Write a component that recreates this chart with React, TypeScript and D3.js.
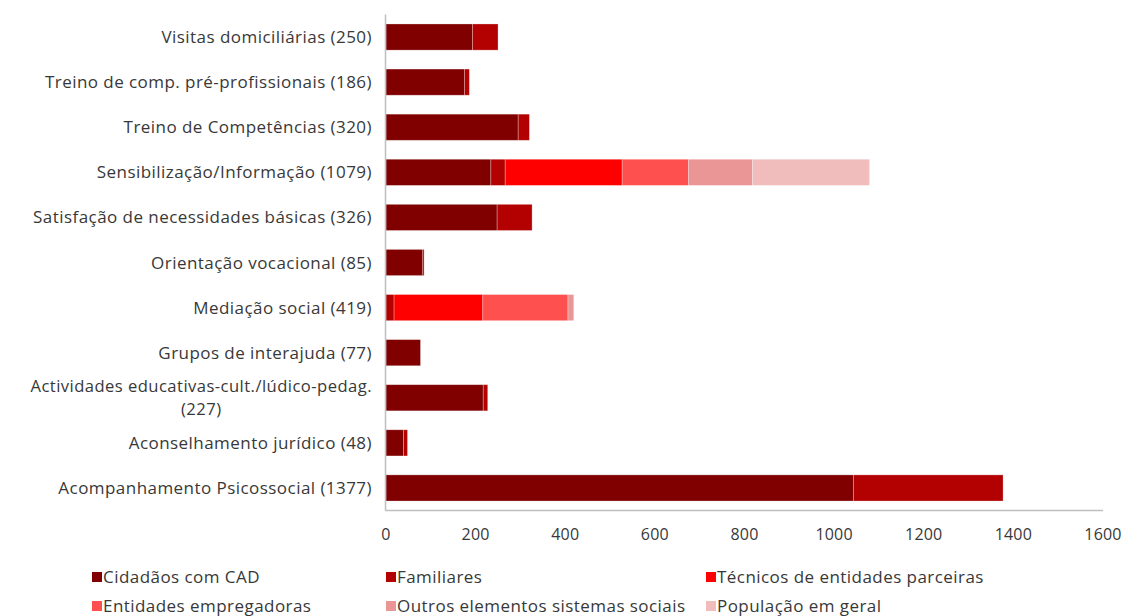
import React, { useEffect, useRef } from "react";
import * as d3 from "d3";

const categories = [
  "Visitas domiciliárias (250)",
  "Treino de comp. pré-profissionais (186)",
  "Treino de Competências (320)",
  "Sensibilização/Informação (1079)",
  "Satisfação de necessidades básicas (326)",
  "Orientação vocacional (85)",
  "Mediação social (419)",
  "Grupos de interajuda (77)",
  "Actividades educativas-cult./lúdico-pedag. (227)",
  "Aconselhamento jurídico (48)",
  "Acompanhamento Psicossocial (1377)",
];

const seriesNames = [
  "Cidadãos com CAD",
  "Familiares",
  "Técnicos de entidades parceiras",
  "Entidades empregadoras",
  "Outros elementos sistemas sociais",
  "População em geral",
];

const cidadaos = [193, 175, 295, 234, 248, 82, 0, 77, 217, 39, 1043];
const familiares = [57, 11, 25, 32, 78, 3, 18, 0, 10, 9, 334];
const tecnicos = [0, 0, 0, 261, 0, 0, 198, 0, 0, 0, 0];
const entidades = [0, 0, 0, 148, 0, 0, 190, 0, 0, 0, 0];
const outros = [0, 0, 0, 143, 0, 0, 13, 0, 0, 0, 0];
const populacao = [0, 0, 0, 261, 0, 0, 0, 0, 0, 0, 0];

const xTicks = [0, 200, 400, 600, 800, 1000, 1200, 1400, 1600];
const colors = ["#800000", "#b30000", "#ff0000", "#ff5050", "#eb9696", "#f1bcbc"];

export default function App() {
  const ref = useRef<SVGSVGElement>(null);
  useEffect(() => {
    const svg = d3.select(ref.current);
    svg.selectAll("*").remove();
    const font = "'Open Sans', sans-serif";
    const textColor = "#383838";
    const fs = 17;
    const ls = 0.45;
    const left = 386, right = 1103, top = 14.5, bottom = 510.5;
    const x = d3.scaleLinear().domain([0, 1600]).range([left, right]);
    const y = d3.scaleBand().domain(categories).range([top, bottom]).paddingInner(0.42).paddingOuter(0.21);

    const rows = categories.map((c, i) => ({
      cat: c,
      s0: cidadaos[i], s1: familiares[i], s2: tecnicos[i], s3: entidades[i], s4: outros[i], s5: populacao[i],
    }));
    const stack = d3.stack<any>().keys(["s0", "s1", "s2", "s3", "s4", "s5"]);
    const stacked = stack(rows);

    stacked.forEach((layer, li) => {
      svg.append("g").selectAll("rect").data(layer).join("rect")
        .filter((d: any) => d[1] - d[0] > 0)
        .attr("x", (d: any) => x(d[0]))
        .attr("y", (d: any) => y(d.data.cat)!)
        .attr("width", (d: any) => x(d[1]) - x(d[0]))
        .attr("height", y.bandwidth())
        .attr("fill", colors[li])
        .attr("stroke", "rgba(255,255,255,0.35)")
        .attr("stroke-width", 0.8);
    });

    svg.append("line").attr("x1", left - 0.5).attr("x2", left - 0.5).attr("y1", top).attr("y2", bottom)
      .attr("stroke", "#bfbfbf").attr("stroke-width", 1.5);
    svg.append("line").attr("x1", left - 1).attr("x2", right).attr("y1", bottom).attr("y2", bottom)
      .attr("stroke", "#bfbfbf").attr("stroke-width", 1.5);

    svg.append("g").selectAll("text").data(xTicks).join("text")
      .attr("x", (d) => x(d)).attr("y", 539.5)
      .attr("text-anchor", "middle")
      .attr("font-family", font).attr("font-size", 16).attr("letter-spacing", 0.2).attr("fill", textColor)
      .text((d) => String(d));

    const labelX = 372;
    const addText = (tx: number, ty: number, anchor: string, s: string, size = fs) =>
      svg.append("text").attr("x", tx).attr("y", ty)
        .attr("text-anchor", anchor).attr("font-family", font).attr("font-size", size)
        .attr("letter-spacing", ls).attr("fill", textColor).text(s);

    categories.forEach((c) => {
      const cy = y(c)! + y.bandwidth() / 2;
      if (c.startsWith("Actividades")) {
        const t1 = addText(labelX, cy - 5.5, "end", "Actividades educativas-cult./lúdico-pedag.", 16.6);
        const w = (t1.node() as SVGTextElement).getComputedTextLength();
        addText(labelX - w / 2, cy + 17.5, "middle", "(227)", 16.6);
      } else {
        addText(labelX, cy + 6, "end", c);
      }
    });

    const legendPos = [
      [92, 577], [386, 577], [706, 577],
      [92, 606], [386, 606], [706, 606],
    ];
    seriesNames.forEach((n, i) => {
      const [lx, ly] = legendPos[i];
      svg.append("rect").attr("x", lx).attr("y", ly - 5).attr("width", 10).attr("height", 10).attr("fill", colors[i]);
      addText(lx + 11, ly + 6, "start", n);
    });
  }, []);

  return (
    <svg ref={ref} width={1125} height={616}
      style={{ position: "absolute", left: 0, top: 0, background: "#fff" }} />
  );
}
